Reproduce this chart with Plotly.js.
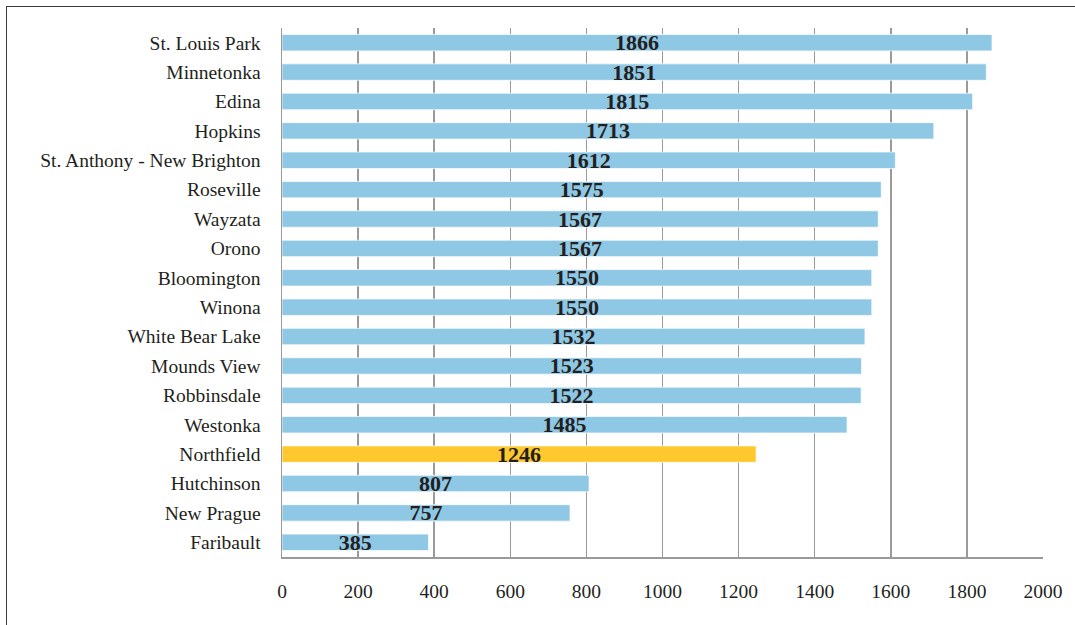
<!DOCTYPE html>
<html>
<head>
<meta charset="utf-8">
<script src="https://cdn.plot.ly/plotly-3.0.1.min.js"></script>
<style>
  html, body { margin: 0; padding: 0; background: #fff; }
  #wrap { position: relative; width: 1075px; height: 625px; overflow: hidden; }
  #chart { width: 1075px; height: 625px; }
  #frame { position: absolute; left: 6px; top: 6px; width: 1200px; height: 700px;
           border-top: 1.5px solid #3a3a3a; border-left: 1.5px solid #3a3a3a; pointer-events: none; }
</style>
</head>
<body>
<div id="wrap">
  <div id="chart"></div>
  <div id="frame"></div>
</div>
<script>
const cities = ["St. Louis Park", "Minnetonka", "Edina", "Hopkins", "St. Anthony - New Brighton",
  "Roseville", "Wayzata", "Orono", "Bloomington", "Winona", "White Bear Lake", "Mounds View",
  "Robbinsdale", "Westonka", "Northfield", "Hutchinson", "New Prague", "Faribault"];
const values = [1866, 1851, 1815, 1713, 1612, 1575, 1567, 1567, 1550, 1550, 1532, 1523,
  1522, 1485, 1246, 807, 757, 385];
const highlight = "Northfield";
const xTicks = [0, 200, 400, 600, 800, 1000, 1200, 1400, 1600, 1800, 2000];

const blue = "#8fc8e5", gold = "#fec82e";
const colors = cities.map(c => c === highlight ? gold : blue);

const trace = {
  type: "bar",
  orientation: "h",
  y: cities,
  x: values,
  text: values.map(String),
  textposition: "inside",
  insidetextanchor: "middle",
  constraintext: "none",
  textangle: 0,
  textfont: { family: "Liberation Serif, Times New Roman, serif", size: 22, color: "#231f20", weight: "bold" },
  marker: { color: colors, line: { color: "rgba(255,255,255,0.7)", width: 1 } },
  hoverinfo: "none",
  cliponaxis: false
};

const layout = {
  width: 1075, height: 625,
  margin: { l: 282, r: 32, t: 28, b: 68 },
  paper_bgcolor: "#fff", plot_bgcolor: "#fff",
  bargap: 0.44,
  showlegend: false,
  font: { family: "Liberation Serif, Times New Roman, serif", color: "#231f20" },
  xaxis: {
    range: [0, 2000],
    tickvals: xTicks,
    ticktext: xTicks.map(String),
    showgrid: true, gridcolor: "#9a9a9a", gridwidth: 1.5,
    zeroline: false,
    showline: true, linecolor: "#9a9a9a", linewidth: 1.5,
    ticks: "", ticklabelstandoff: 16,
    tickfont: { size: 19.5, color: "#231f20" },
    fixedrange: true
  },
  yaxis: {
    autorange: false,
    range: [cities.length - 0.5, -0.5],
    type: "category",
    categoryorder: "array", categoryarray: cities,
    showgrid: false, zeroline: false,
    showline: true, linecolor: "#9a9a9a", linewidth: 1.5,
    ticks: "", ticklabelstandoff: 16,
    tickfont: { size: 19.5, color: "#231f20" },
    fixedrange: true
  }
};

Plotly.newPlot("chart", [trace], layout, { staticPlot: true, displayModeBar: false });
</script>
</body>
</html>
